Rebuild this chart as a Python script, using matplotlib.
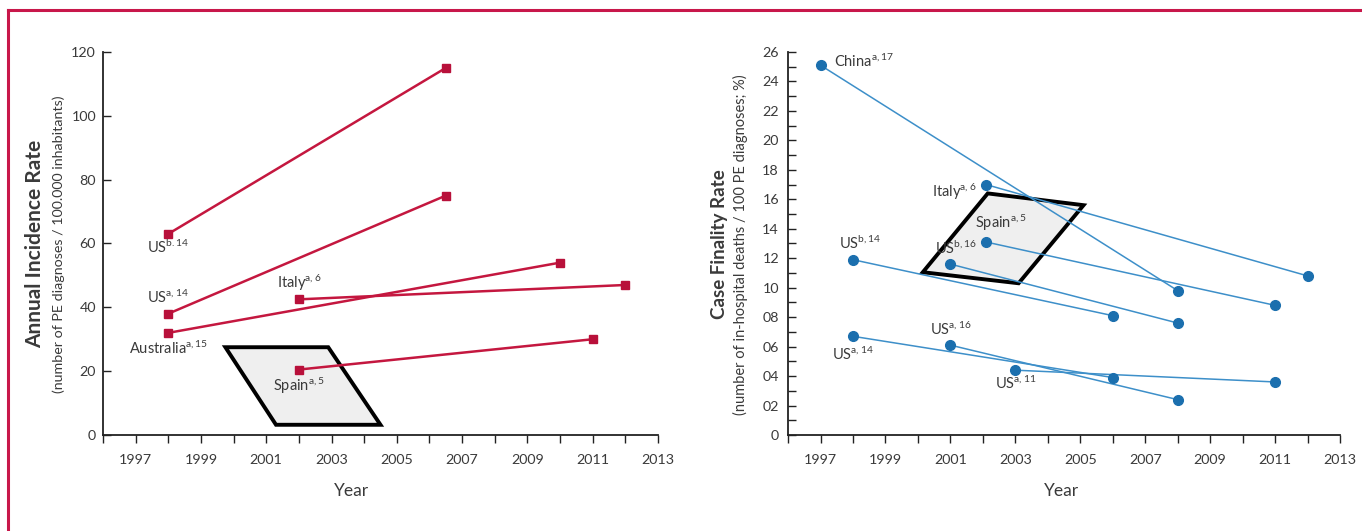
# =========================================================
# PE incidence and case fatality trends (two panels)
# =========================================================

import matplotlib
matplotlib.use("Agg")
import matplotlib.pyplot as plt
from matplotlib.lines import Line2D
from matplotlib.patches import Polygon


# =========================================================
# Data - left panel (annual incidence rate)
# =========================================================

inc_labels = ["US$^{\\mathregular{b.14}}$", "US$^{\\mathregular{a, 14}}$",
              "Australia$^{\\mathregular{a, 15}}$", "Italy$^{\\mathregular{a, 6}}$",
              "Spain$^{\\mathregular{a, 5}}$"]
inc_years_start = [1998, 1998, 1998, 2002, 2002]
inc_years_end = [2006.5, 2006.5, 2010, 2012, 2011]
inc_start = [63, 38, 32, 42.5, 20.5]
inc_end = [115, 75, 54, 47, 30]

inc_box_x = [1999.75, 2002.9, 2004.5, 2001.3]
inc_box_y = [27.5, 27.5, 3.2, 3.2]


# =========================================================
# Data - right panel (case fatality rate)
# =========================================================

cf_labels = ["China$^{\\mathregular{a, 17}}$", "Italy$^{\\mathregular{a, 6}}$",
             "Spain$^{\\mathregular{a, 5}}$", "US$^{\\mathregular{b, 16}}$",
             "US$^{\\mathregular{b, 14}}$", "US$^{\\mathregular{a, 14}}$",
             "US$^{\\mathregular{a, 16}}$", "US$^{\\mathregular{a,11}}$"]
cf_years_start = [1997, 2002.1, 2002.1, 2001, 1998, 1998, 2001, 2003]
cf_years_end = [2008, 2012, 2011, 2008, 2006, 2006, 2008, 2011]
cf_start = [25.1, 17.0, 13.1, 11.6, 11.9, 6.7, 6.1, 4.4]
cf_end = [9.8, 10.8, 8.8, 7.6, 8.1, 3.9, 2.4, 3.6]

cf_box_x = [2000.15, 2002.15, 2005.1, 2003.1]
cf_box_y = [11.05, 16.4, 15.6, 10.3]

year_ticks = list(range(1996, 2014))
inc_ticks = [0, 20, 40, 60, 80, 100, 120]
cf_ticks = list(range(0, 27, 2))
cf_tick_labels = ["0", "02", "04", "06", "08"] + [str(v) for v in range(10, 27, 2)]


# =========================================================
# Label placement (offsets in points) and styles
# =========================================================

inc_offsets = [(0, -9.5, "center"), (0, 12, "center"), (0, -11.5, "center"),
               (0, 12, "center"), (0, -11.5, "center")]
cf_offsets = [(10, 2.5, "left"), (-7, -5.5, "right"), (11, 13.5, "center"),
              (4, 11.5, "center"), (5, 12, "center"), (0, -13, "center"),
              (0, 11.5, "center"), (0, -9.5, "center")]

RED_LINE = "#c4173f"
RED_MARK = "#b8103a"
BLUE_LINE = "#3d8fc9"
BLUE_MARK = "#1b6fae"
TEXT = "#3a3a3a"

plt.rcParams["font.family"] = ["Lato", "DejaVu Sans"]
plt.rcParams["mathtext.default"] = "regular"


# =========================================================
# Figure
# =========================================================

fig = plt.figure(figsize=(13.62, 5.31), dpi=100)

ax1 = fig.add_axes([0.0756, 0.1808, 0.4075, 0.7213])
ax2 = fig.add_axes([0.5786, 0.1808, 0.4053, 0.7213])


def style_axes(ax, yticks, ylabels, ymax, ypad, label_x, minor=None):

    for side in ["top", "right"]:
        ax.spines[side].set_visible(False)

    for side in ["left", "bottom"]:
        ax.spines[side].set_linewidth(1.3)
        ax.spines[side].set_color("#222222")

    ax.set_xlim(1996, 2013)
    ax.set_ylim(0, ymax)

    ax.set_xticks(year_ticks)
    ax.set_xticklabels([str(y) if y % 2 == 1 else "" for y in year_ticks])

    ax.set_yticks(yticks)
    ax.set_yticklabels(ylabels)

    if minor is not None:
        ax.set_yticks(minor, minor=True)

    ax.tick_params(axis="x", direction="out", length=6, width=1,
                   labelsize=10.3, pad=8, colors="#222222", labelcolor=TEXT)
    ax.tick_params(axis="y", which="both", direction="in", length=6,
                   width=1, labelsize=10.3, pad=ypad, colors="#222222",
                   labelcolor=TEXT)

    ax.set_xlabel("Year", fontsize=12.5, color=TEXT)
    ax.xaxis.set_label_coords(label_x, -0.125)
    ax.patch.set_alpha(0)


style_axes(ax1, inc_ticks, [str(v) for v in inc_ticks], 120, 5, 0.447)
style_axes(ax2, cf_ticks, cf_tick_labels, 26, 6.5, 0.496,
           minor=list(range(0, 27)))


# =========================================================
# Highlight boxes
# =========================================================

ax1.add_patch(Polygon(list(zip(inc_box_x, inc_box_y)), closed=True,
                      facecolor="#efefef", edgecolor="black",
                      linewidth=2.8, zorder=1))
ax2.add_patch(Polygon(list(zip(cf_box_x, cf_box_y)), closed=True,
                      facecolor="#efefef", edgecolor="black",
                      linewidth=2.8, zorder=1))


# =========================================================
# Series
# =========================================================

for i in range(len(inc_labels)):

    ax1.plot([inc_years_start[i], inc_years_end[i]],
             [inc_start[i], inc_end[i]],
             color=RED_LINE, linewidth=1.8, zorder=3)

    ax1.plot([inc_years_start[i], inc_years_end[i]],
             [inc_start[i], inc_end[i]],
             linestyle="none", marker="s", markersize=6,
             color=RED_MARK, zorder=4)

    dx, dy, ha = inc_offsets[i]

    ax1.annotate(inc_labels[i], (inc_years_start[i], inc_start[i]),
                 xytext=(dx, dy), textcoords="offset points",
                 ha=ha, va="center", fontsize=10.5, color=TEXT, zorder=5)

for i in range(len(cf_labels)):

    ax2.plot([cf_years_start[i], cf_years_end[i]],
             [cf_start[i], cf_end[i]],
             color=BLUE_LINE, linewidth=1.1, zorder=3)

    ax2.plot([cf_years_start[i], cf_years_end[i]],
             [cf_start[i], cf_end[i]],
             linestyle="none", marker="o", markersize=7,
             color=BLUE_MARK, zorder=4)

    dx, dy, ha = cf_offsets[i]

    ax2.annotate(cf_labels[i], (cf_years_start[i], cf_start[i]),
                 xytext=(dx, dy), textcoords="offset points",
                 ha=ha, va="center", fontsize=10.5, color=TEXT, zorder=5)


# =========================================================
# Axis titles
# =========================================================

fig.text(0.026, 0.54, "Annual Incidence Rate", rotation=90,
         ha="center", va="center", fontsize=15, fontweight="bold",
         color=TEXT)
fig.text(0.043, 0.54, "(number of PE diagnoses / 100.000 inhabitants)",
         rotation=90, ha="center", va="center", fontsize=10.3, color=TEXT)

fig.text(0.528, 0.54, "Case Finality Rate", rotation=90,
         ha="center", va="center", fontsize=13.5, fontweight="bold",
         color=TEXT)
fig.text(0.544, 0.54,
         "(number of in-hospital deaths / 100 PE diagnoses; %)",
         rotation=90, ha="center", va="center", fontsize=10.5, color=TEXT)


# =========================================================
# Frame lines
# =========================================================

fig.add_artist(Line2D([0.006, 1.0], [0.981, 0.981], color="#c8174a",
                      linewidth=2.2, transform=fig.transFigure))
fig.add_artist(Line2D([0.006, 0.006], [0.0, 0.981], color="#c8174a",
                      linewidth=2.2, transform=fig.transFigure))

fig.savefig("out.png", dpi=100)
